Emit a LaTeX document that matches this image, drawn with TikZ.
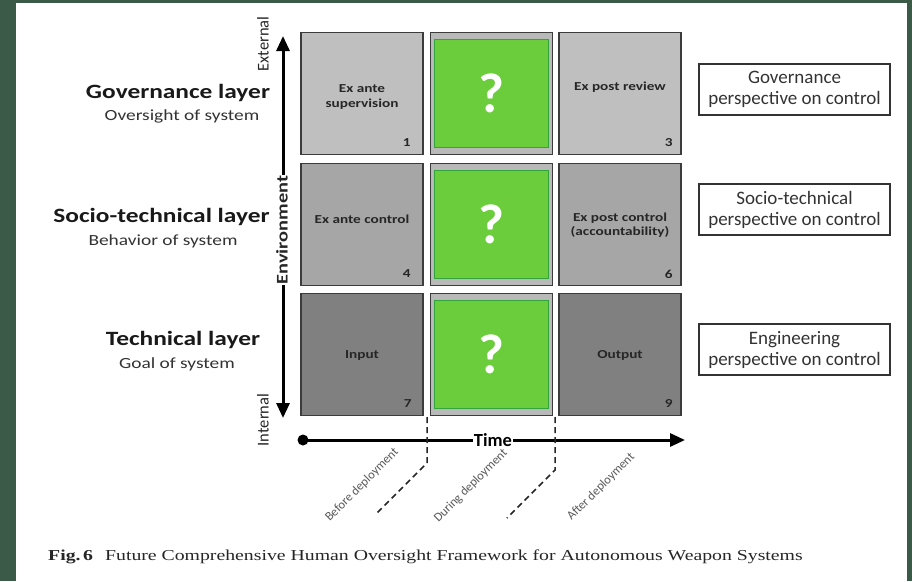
\documentclass[tikz,border=0pt]{standalone}
\usepackage{fontspec}
\setmainfont{Carlito}
\newfontfamily\widesans[FakeStretch=1.25]{Carlito}
\newfontfamily\widecap[FakeStretch=1.3]{Liberation Serif}
\usetikzlibrary{arrows.meta}
\definecolor{frame}{HTML}{3B5A48}
\definecolor{boxline}{HTML}{3C3C3C}
\definecolor{gone}{HTML}{BFBFBF}
\definecolor{gtwo}{HTML}{A6A6A6}
\definecolor{gthree}{HTML}{808080}
\definecolor{qgreen}{HTML}{6BCD3B}
\definecolor{qedge}{HTML}{33A33C}
\begin{document}
\begin{tikzpicture}[x=1pt,y=-1pt,
  cell/.style={draw=boxline, line width=1.3pt, minimum width=122pt, minimum height=122pt, inner sep=0pt},
  lightcell/.style={cell, fill=gone},
  midcell/.style={cell, fill=gtwo},
  darkcell/.style={cell, fill=gthree},
  greencell/.style={cell, fill=gray!55},
  qbox/.style={draw=qedge, line width=1.6pt, fill=qgreen, minimum width=114pt, minimum height=108pt, inner sep=0pt,
     font=\fontsize{56}{60}\selectfont\bfseries, text=white},
  celltext/.style={font=\widesans\fontsize{12.2}{14.5}\selectfont\bfseries, align=center, text=black!85},
  numtext/.style={font=\widesans\fontsize{12.2}{14}\selectfont\bfseries, text=black!85},
  persp/.style={draw=black!80, line width=1.2pt, fill=white, minimum width=191pt, minimum height=51pt,
     align=center, font=\fontsize{19}{21}\selectfont, text=black!80, inner sep=0pt},
  layerhead/.style={anchor=base, font=\widesans\fontsize{20.3}{22}\selectfont\bfseries, text=black!90},
  layersub/.style={anchor=base, font=\widesans\fontsize{15.5}{17}\selectfont, text=black!80},
  axislbl/.style={font=\fontsize{16.5}{18}\selectfont, text=black!85, rotate=90},
  axisline/.style={line width=3pt, black},
  phase/.style={font=\fontsize{12.5}{14}\selectfont, rotate=45, text=black!65},
  sepline/.style={dash pattern=on 6pt off 4pt, line width=1.5pt, black!85}
]
\useasboundingbox (0,0) rectangle (912,581);
\fill[frame] (0,0) rectangle (912,581);
\fill[white] (16,3) rectangle (907,581);

% grid cells
\node[lightcell] (b1) at (362,93.5) {};
\node[greencell] (b2) at (491.5,93.5) {};
\node[lightcell] (b3) at (620,93.5) {};
\node[midcell] (b4) at (362,224.5) {};
\node[greencell] (b5) at (491.5,224.5) {};
\node[midcell] (b6) at (620,224.5) {};
\node[darkcell] (b7) at (362,354.5) {};
\node[greencell] (b8) at (491.5,354.5) {};
\node[darkcell] (b9) at (620,354.5) {};

\node[qbox] (q2) at (b2) {?};
\node[qbox] (q5) at (b5) {?};
\node[qbox] (q8) at (b8) {?};

\node[celltext] (t1) at (362,97) {Ex ante\\supervision};
\node[celltext] (t3) at (620,87) {Ex post review};
\node[celltext] (t4) at (362,219) {Ex ante control};
\node[celltext] (t6) at (620,225) {Ex post control\\(accountability)};
\node[celltext] (t7) at (362,355) {Input};
\node[celltext] (t9) at (620,355) {Output};

\node[numtext] (n1) at ([shift={(-17,-13)}]b1.south east) {1};
\node[numtext] (n3) at ([shift={(-13,-13)}]b3.south east) {3};
\node[numtext] (n4) at ([shift={(-17,-13)}]b4.south east) {4};
\node[numtext] (n6) at ([shift={(-13,-12)}]b6.south east) {6};
\node[numtext] (n7) at ([shift={(-16,-13)}]b7.south east) {7};
\node[numtext] (n9) at ([shift={(-13,-13)}]b9.south east) {9};

% perspective boxes
\node[persp] (p1) at (794.5,89.5) {Governance\\perspective on control};
\node[persp] (p2) at (794.5,209.5) {Socio-technical\\perspective on control};
\node[persp] (p3) at (794.5,349.5) {Engineering\\perspective on control};

% layer labels
\node[layerhead] (h1) at (178,98) {Governance layer};
\node[layersub] (s1) at (182,120) {Oversight of system};
\node[layerhead] (h2) at (161.5,222) {Socio-technical layer};
\node[layersub] (s2) at (163,245) {Behavior of system};
\node[layerhead] (h3) at (183,345) {Technical layer};
\node[layersub] (s3) at (177,368) {Goal of system};

% vertical axis
\coordinate (vtop) at (283,36);
\coordinate (vbot) at (283,418);
\draw[axisline, {Triangle[length=15pt,width=13pt]}-{Triangle[length=15pt,width=13pt]}] (vbot) -- (vtop);
\node[axislbl] (ext) at (263,44) {External};
\node[axislbl] (int) at (263,420) {Internal};
\node[axislbl, font=\widesans\fontsize{16.3}{18}\selectfont\bfseries, fill=white, inner sep=1pt] (env) at (282,230) {Environment};

% time axis
\coordinate (tstart) at (303,440);
\coordinate (tend) at (685,440);
\fill (tstart) circle (5.5);
\draw[axisline, -{Triangle[length=15pt,width=13pt]}] (tstart) -- (tend);
\node[font=\fontsize{18.5}{20}\selectfont\bfseries, fill=white, inner sep=1pt] (time) at (493,440) {Time};

% separators
\coordinate (d1a) at (427,417);
\coordinate (d1b) at (427,463);
\coordinate (d1c) at (377,513);
\coordinate (d2a) at (555,417);
\coordinate (d2b) at (555,470);
\coordinate (d2c) at (507,518);
\draw[sepline] (d1a) -- (d1b) -- (d1c);
\draw[sepline] (d2a) -- (d2b) -- (d2c);

\node[phase] (ph1) at (362,485) {Before deployment};
\node[phase] (ph2) at (471,486) {During deployment};
\node[phase] (ph3) at (601,487) {After deployment};

% caption
\node[anchor=west, font=\widecap\fontsize{15.2}{17}\selectfont, text=black!85, inner sep=0pt] (cap) at (48,557)
  {\textbf{Fig.\,6}\hspace{0.8em}Future Comprehensive Human Oversight Framework for Autonomous Weapon Systems};
\end{tikzpicture}
\end{document}
